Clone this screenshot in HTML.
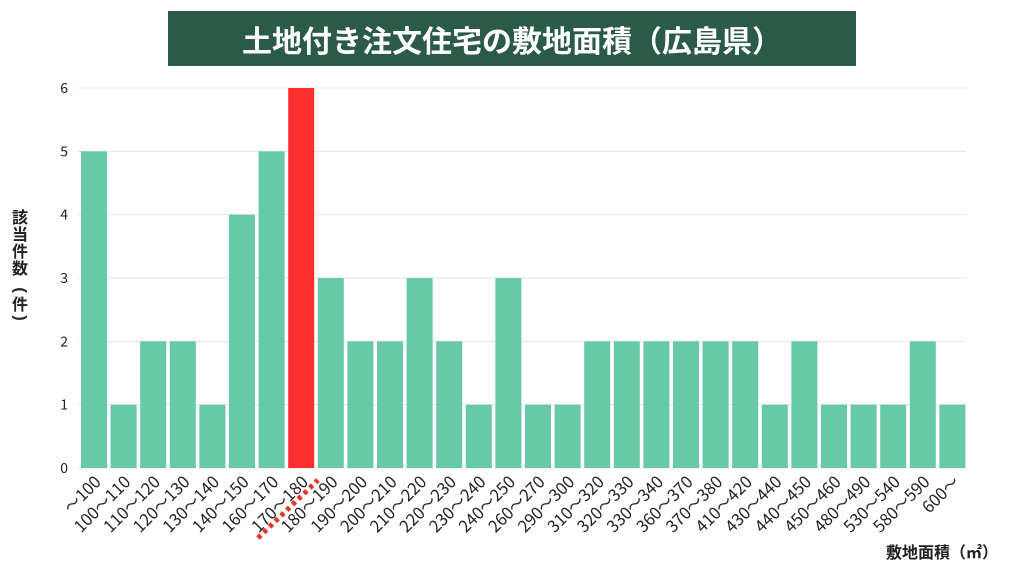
<!DOCTYPE html>
<html><head><meta charset="utf-8"><style>
body{margin:0;background:#fff;width:1024px;height:576px;overflow:hidden;font-family:"Liberation Sans","Noto Sans CJK JP",sans-serif}
</style></head><body>
<svg id="s" width="1024" height="576" xmlns="http://www.w3.org/2000/svg" font-family="Liberation Sans, Noto Sans CJK JP, sans-serif">
<rect x="168" y="11" width="688" height="55" fill="#2b5a48"/>
<text x="512" y="52" text-anchor="middle" fill="#fff" font-size="30" font-weight="bold" font-family="Noto Sans CJK JP, sans-serif">土地付き注文住宅の敷地面積（広島県）</text>
<g id="g"></g>
<g font-size="16" font-weight="bold" fill="#222" font-family="Noto Sans CJK JP, sans-serif" text-anchor="middle">
<text x="20" y="223">該</text><text x="20" y="240">当</text><text x="20" y="257">件</text><text x="20" y="274">数</text>
<text x="20" y="310">件</text>
</g>
<g font-size="16" font-weight="bold" fill="#222" font-family="Liberation Sans, sans-serif" text-anchor="middle" dominant-baseline="central">
<text x="20" y="290" transform="rotate(90 20 290)">(</text>
<text x="20" y="318" transform="rotate(90 20 318)">)</text>
</g>
<text x="942" y="558" text-anchor="middle" font-size="16" font-weight="bold" fill="#222" font-family="Noto Sans CJK JP, sans-serif">敷地面積（㎡）</text>
<line x1="258" y1="538" x2="318" y2="480" stroke="#e8322e" stroke-width="5" stroke-dasharray="4 4"/>
</svg>
<script>
var v=[5,1,2,2,1,4,5,6,3,2,2,3,2,1,3,1,1,2,2,2,2,2,2,1,2,1,1,1,2,1];
var L=["~100","100~110","110~120","120~130","130~140","140~150","160~170","170~180","180~190","190~200","200~210","210~220","220~230","230~240","240~250","260~270","290~300","310~320","320~330","330~340","360~370","370~380","410~420","430~440","440~450","450~460","480~490","530~540","580~590","600~"];
var h='';
for(var i=0;i<=6;i++){var y=468-i*63.33;h+='<line x1="78" x2="966" y1="'+y+'" y2="'+y+'" stroke="#e4e4e4"/><text x="68" y="'+(y+5)+'" text-anchor="end" font-size="14" fill="#222" font-family="Noto Sans CJK JP, sans-serif">'+i+'</text>';}
for(var i=0;i<30;i++){var x=81+i*29.6,bh=v[i]*63.33;
h+='<rect x="'+x+'" y="'+(468-bh)+'" width="26" height="'+bh+'" fill="'+(i==7?'#ff2e2e':'#68c9a6')+'"/>';
var cx=x+21,cy=483;
h+='<text x="'+cx+'" y="'+cy+'" text-anchor="end" font-size="16.5" fill="#222" font-family="Noto Sans CJK JP, sans-serif" transform="rotate(-45 '+cx+' '+cy+')">'+L[i].replace('~','〜')+'</text>';}
document.getElementById('g').innerHTML=h;
</script>
</body></html>
